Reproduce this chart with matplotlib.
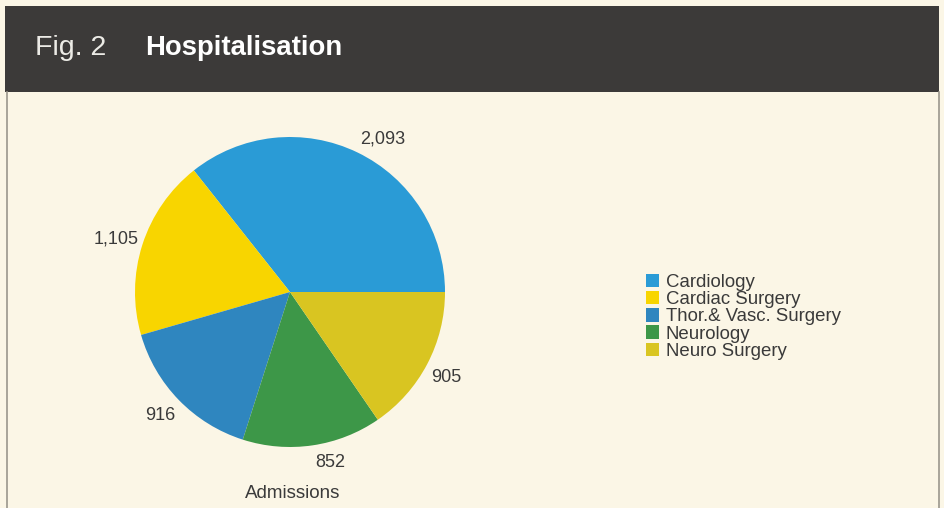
import matplotlib
matplotlib.use("Agg")
import matplotlib.pyplot as plt
from matplotlib.patches import Rectangle
from matplotlib.lines import Line2D

plt.rcParams["font.family"] = ["Liberation Sans", "DejaVu Sans"]

# ── Data ───────────────────────────────────────────────────────────────────────
categories = ["Cardiology", "Cardiac Surgery", "Thor.& Vasc. Surgery",
              "Neurology", "Neuro Surgery"]
admissions = [2093, 1105, 916, 852, 905]
value_labels = ["2,093", "1,105", "916", "852", "905"]

colors = ["#2a9bd6", "#f8d500", "#2f86bf", "#3d9748", "#d9c521"]
# label positions in pie units (radius = 1)
label_pos = [(0.60, 0.99), (-1.12, 0.34), (-0.84, -0.80),
             (0.26, -1.10), (1.01, -0.55)]

BG = "#fbf6e6"
BAR = "#3c3a39"
INK = "#3a3a3a"

W, H = 944, 508
fig = plt.figure(figsize=(W / 100, H / 100), dpi=100)
fig.patch.set_facecolor(BG)

# title bar
fig.patches.append(Rectangle((5 / W, 1 - 92 / H), (939 - 5) / W, 86 / H,
                             transform=fig.transFigure, facecolor=BAR,
                             edgecolor="none", zorder=0))
# panel frame
for xpx in (7, 939):
    fig.add_artist(Line2D([xpx / W, xpx / W], [0, 1 - 92 / H],
                          transform=fig.transFigure, color="#9a968c", lw=1.2))

fig.text(35 / W, 1 - 48 / H, "Fig. 2", color="#ecebe6", fontsize=20.5,
         va="center", ha="left")
fig.text(145 / W, 1 - 48 / H, "Hospitalisation", color="white", fontsize=19.8,
         fontweight="bold", va="center", ha="left")

# pie
cx, cy, r = 290, 292, 155
ax = fig.add_axes([(cx - r) / W, 1 - (cy + r) / H, 2 * r / W, 2 * r / H])
ax.set_facecolor("none")
wedges, _ = ax.pie(admissions, colors=colors, startangle=0, counterclock=True,
                   radius=1, wedgeprops=dict(linewidth=0))
ax.set_xlim(-1, 1)
ax.set_ylim(-1, 1)
ax.set_aspect("equal")
ax.axis("off")

for txt, (x, y) in zip(value_labels, label_pos):
    ax.text(x, y, txt, ha="center", va="center", fontsize=13,
            color=INK, clip_on=False)
ax.text(0.02, -1.30, "Admissions", ha="center", va="center", fontsize=13.5,
        color=INK, clip_on=False)

leg = fig.legend(wedges, categories, loc="upper left",
                 bbox_to_anchor=(646 / W, 1 - 274 / H),
                 frameon=False, fontsize=13.4, handlelength=0.72,
                 handleheight=0.72, handletextpad=0.35, labelspacing=0.0,
                 borderaxespad=0, borderpad=0)
for t in leg.get_texts():
    t.set_color(INK)

fig.savefig("out.png", dpi=100, facecolor=fig.get_facecolor())
